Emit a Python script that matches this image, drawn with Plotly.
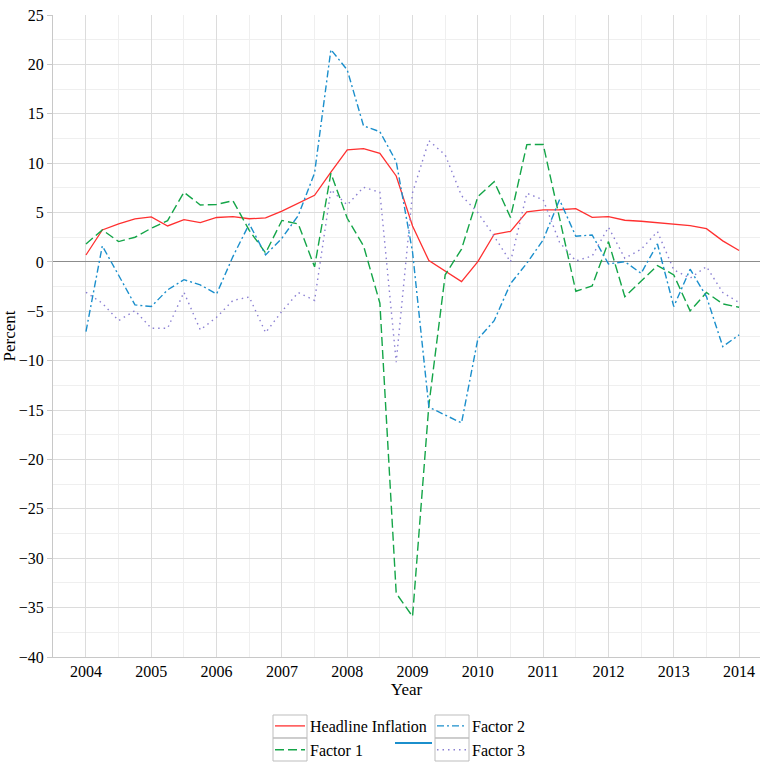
import plotly.graph_objects as go

quarters = [2004 + q / 4 for q in range(41)]
year_ticks = [2004, 2005, 2006, 2007, 2008, 2009, 2010, 2011, 2012, 2013, 2014]
year_labels = [str(y) for y in year_ticks]
y_ticks = [25, 20, 15, 10, 5, 0, -5, -10, -15, -20, -25, -30, -35, -40]
y_labels = [str(v) if v >= 0 else "\u2212" + str(-v) for v in y_ticks]

headline = [0.7, 3.24, 3.85, 4.35, 4.56, 3.64, 4.28, 3.98, 4.5, 4.59,
            4.37, 4.45, 5.15, 5.95, 6.75, 9.1, 11.34, 11.47, 11.0, 8.7,
            3.64, 0.13, -0.93, -1.99, 0.03, 2.8, 3.1, 5.06, 5.26, 5.28,
            5.39, 4.52, 4.59, 4.22, 4.12, 3.98, 3.85, 3.68, 3.37, 2.13, 1.15]
factor1 = [1.82, 3.24, 2.06, 2.5, 3.41, 4.18, 7.05, 5.77, 5.82, 6.2,
           3.2, 0.9, 4.2, 3.85, -0.5, 8.98, 4.42, 1.62, -4.18, -33.55,
           -35.9, -14.5, -1.3, 1.3, 6.6, 8.13, 4.5, 11.88, 11.9, 4.4,
           -2.97, -2.43, 2.06, -3.51, -1.99, -0.37, -1.32, -4.96, -3.1, -4.25, -4.59]
factor2 = [-7.05, 1.62, -1.35, -4.35, -4.52, -2.83, -1.8, -2.33, -3.24, 0.54,
           3.85, 0.71, 2.4, 4.7, 9.0, 21.5, 19.44, 13.77, 13.19, 10.16,
           1.0, -14.7, -15.5, -16.3, -7.8, -5.95, -2.2, -0.13, 2.23, 6.3,
           2.6, 2.73, -0.2, 0.03, -1.15, 1.82, -4.52, -0.74, -3.51, -8.57, -7.39]
factor3 = [-3.07, -4.18, -5.94, -4.93, -6.71, -6.71, -3.07, -6.88, -5.6, -3.9,
           -3.55, -7.16, -5.0, -3.1, -3.9, 7.29, 5.77, 7.56, 7.05, -10.15,
           7.0, 12.28, 10.83, 6.7, 5.0, 2.6, 0.0, 6.95, 6.3, 2.0,
           0.1, 0.6, 3.51, 0.37, 1.28, 3.07, -0.81, -1.65, -0.47, -3.1, -4.12]

FONT = "Liberation Serif, DejaVu Serif, serif"
TICKFONT = dict(family=FONT, size=16, color="black")

fig = go.Figure()
fig.add_trace(go.Scatter(x=quarters, y=headline, mode="lines", name="Headline Inflation",
                         line=dict(color="#ff3030", width=1.3), legend="legend", legendrank=1))
fig.add_trace(go.Scatter(x=quarters, y=factor1, mode="lines", name="Factor 1",
                         line=dict(color="#14a548", width=1.4, dash="9px,4px"), legend="legend", legendrank=2))
fig.add_trace(go.Scatter(x=quarters, y=factor2, mode="lines", name="Factor 2",
                         line=dict(color="#1b8fcc", width=1.4, dash="7px,3px,2px,3px"), legend="legend2", legendrank=1))
fig.add_trace(go.Scatter(x=quarters, y=factor3, mode="lines", name="Factor 3",
                         line=dict(color="#8a7fd2", width=1.4, dash="1.5px,4px"), legend="legend2", legendrank=2))

leg_common = dict(orientation="v", yanchor="top", xanchor="left",
                  xref="paper", yref="container",
                  font=dict(family=FONT, size=16, color="black"),
                  tracegroupgap=0, itemwidth=30, bgcolor="rgba(0,0,0,0)")

fig.update_layout(
    width=760, height=762,
    margin=dict(l=53, r=0, t=15, b=105),
    paper_bgcolor="white", plot_bgcolor="white",
    font=dict(family=FONT, size=16, color="black"),
    showlegend=True,
    legend=dict(x=(270 - 53) / 707, y=1 - 709 / 762, **leg_common),
    legend2=dict(x=(432 - 53) / 707, y=1 - 709 / 762, **leg_common),
)
fig.update_xaxes(
    range=[2003.495, 2014.32], tickvals=year_ticks, ticktext=year_labels, tickfont=TICKFONT,
    showgrid=True, gridcolor="#dcdcdc", gridwidth=1.2,
    minor=dict(dtick=0.5, tick0=2003.5, showgrid=True, gridcolor="#efefef", gridwidth=1.2),
    showline=True, linecolor="#c8c8c8", linewidth=1.2, ticks="",
    zeroline=False, automargin=False,
    title=dict(text="Year", font=dict(family=FONT, size=17), standoff=2),
)
fig.update_yaxes(
    range=[-40, 25], tickvals=y_ticks, ticktext=y_labels, tickfont=TICKFONT,
    showgrid=True, gridcolor="#dcdcdc", gridwidth=1.2,
    minor=dict(dtick=2.5, tick0=0, showgrid=True, gridcolor="#efefef", gridwidth=1.2),
    showline=True, linecolor="#c8c8c8", linewidth=1.2,
    ticks="outside", ticklen=5, tickcolor="#c8c8c8",
    zeroline=True, zerolinecolor="#8c8c8c", zerolinewidth=1.4, automargin=False,
    title=dict(text="Percent", font=dict(family=FONT, size=17), standoff=0),
)

# grey boxes framing the legend symbols
for bx in (273, 435):
    for (top, bot) in ((715, 738), (738, 761)):
        fig.add_shape(type="rect", xref="paper", yref="paper",
                      x0=(bx - 53) / 707, x1=(bx + 34 - 53) / 707,
                      y0=(657 - top) / 642, y1=(657 - bot) / 642,
                      line=dict(color="#bdbdbd", width=1), fillcolor="rgba(0,0,0,0)")

# stray blue stroke under "Inflation" in the reference legend
fig.add_shape(type="line", xref="paper", yref="paper",
              x0=(395 - 53) / 707, x1=(432 - 53) / 707,
              y0=(657 - 743) / 642, y1=(657 - 743) / 642,
              line=dict(color="#1b8fcc", width=2.2))

fig.write_html("out.html")
